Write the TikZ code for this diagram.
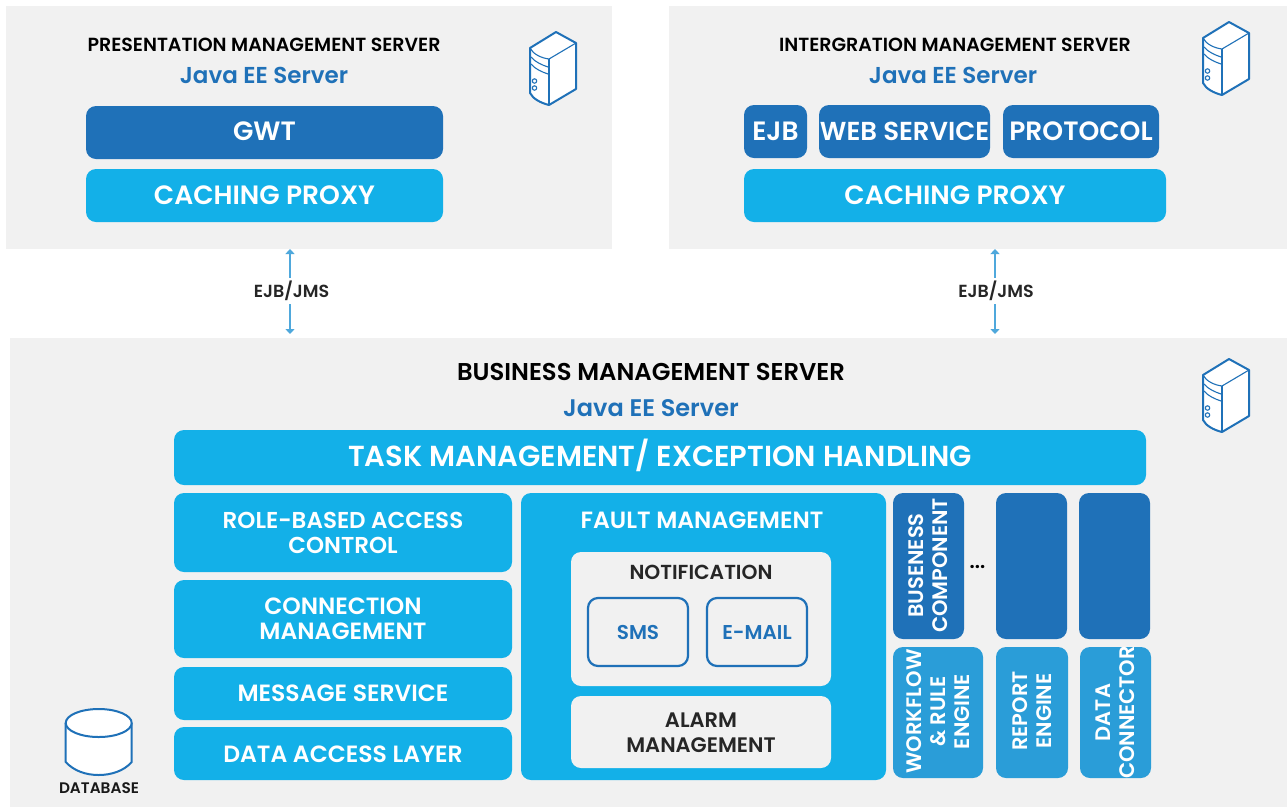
\documentclass[tikz,border=0pt]{standalone}
\usepackage{fontspec}
\setmainfont{Poppins}[BoldFont={Poppins SemiBold}]
\usetikzlibrary{calc,arrows.meta}
\definecolor{panelgray}{HTML}{F1F1F1}
\definecolor{darkblue}{HTML}{1F71B8}
\definecolor{brightblue}{HTML}{13B0E8}
\definecolor{midblue}{HTML}{2A9DD8}
\definecolor{arrowblue}{HTML}{4FA8DC}
\newcommand{\rect}[7][]{\path let \n1={#3-#2}, \n2={#5-#4} in node[#1,minimum width=\n1 pt,minimum height=\n2 pt] (#6) at ({(#2+#3)/2},{(#4+#5)/2}) {#7};}
\tikzset{
  x=1pt,y=-1pt,
  panel/.style={fill=panelgray,inner sep=0pt,outer sep=0pt},
  block/.style={rounded corners=10pt,inner sep=0pt,outer sep=0pt,align=center,text=white,font=\bfseries\fontsize{#1}{#1}\selectfont},
  dark/.style={block=#1,fill=darkblue},
  bright/.style={block=#1,fill=brightblue},
  mid/.style={block=#1,fill=midblue},
  sidetext/.style={inner sep=0pt,align=center,text=white,rotate=90,font=\bfseries\fontsize{21}{21}\selectfont},
  light/.style={rounded corners=10pt,inner sep=0pt,outer sep=0pt,fill=panelgray},
  lighttext/.style={inner sep=0pt,align=center,text=black!85,font=\bfseries\fontsize{#1}{25}\selectfont},
  outlinebox/.style={rounded corners=10pt,inner sep=0pt,outer sep=0pt,draw=darkblue,line width=2.2pt,text=darkblue,font=\bfseries\fontsize{20}{20}\selectfont},
  title/.style={text=black,inner sep=0pt,font=\bfseries\fontsize{#1}{#1}\selectfont},
  java/.style={text=darkblue,inner sep=0pt,font=\bfseries\fontsize{#1}{#1}\selectfont},
  link/.style={text=black!85,inner sep=0pt,font=\bfseries\fontsize{17.5}{17.5}\selectfont},
  flow/.style={draw=arrowblue,line width=1.8pt,-{Triangle[length=5pt,width=9pt]}},
  iconline/.style={draw=darkblue,line width=1.1pt},
  servericon/.pic={
    \draw[iconline,line width=2pt,fill=white,line join=round] (26,0) -- (0,16) -- (0,61) .. controls (3,67) and (11,71) .. (19,73) -- (46,57) -- (46,11) -- cycle;
    \draw[iconline] (0,16) .. controls (3,22) and (11,26) .. (19,27) -- (46,11);
    \draw[iconline] (19,27) -- (19,73);
    \draw[iconline] (1,25) .. controls (5,30) and (12,33) .. (18,35);
    \draw[iconline] (1,32) .. controls (5,37) and (12,40) .. (18,42);
    \draw[iconline] (4.5,49) circle (2.2);
    \draw[iconline] (4.5,56) circle (2.2);
  },
}
\begin{document}
\begin{tikzpicture}
\useasboundingbox (0,0) rectangle (1287,807);
\fill[white] (0,0) rectangle (1287,807);
% panels
\rect[panel]{6}{612}{6}{249}{presPanel}{}
\rect[panel]{669}{1287}{6}{249}{intPanel}{}
\rect[panel]{10}{1287}{338}{807}{busPanel}{}
% presentation
\node[title=19] (presTitle) at (264,45) {PRESENTATION MANAGEMENT SERVER};
\node[java=23] (presJava) at (264,75) {Java EE Server};
\rect[dark=26.5]{86}{443}{106}{159}{gwt}{}
\node[block=26.5,yshift=1.5pt] (gwtText) at (gwt.center) {GWT};
\rect[bright=26.5]{86}{443}{169}{222}{presCache}{CACHING PROXY}
\pic at (530,32) {servericon};
% integration
\node[title=19] (intTitle) at (955,45) {INTERGRATION MANAGEMENT SERVER};
\node[java=23] (intJava) at (953,75) {Java EE Server};
\rect[dark=26.5]{744}{807}{105}{158}{ejb}{EJB}
\rect[dark=26]{819}{990}{105}{158}{ws}{WEB SERVICE}
\rect[dark=26.5]{1003}{1159}{105}{158}{protocol}{PROTOCOL}
\rect[bright=26.5]{744}{1166}{169}{222}{intCache}{CACHING PROXY}
\pic at (1203,22) {servericon};
% links
\node[link] (linkA) at (291.5,291) {EJB/JMS};
\node[link] (linkB) at (996,291) {EJB/JMS};
\coordinate (axisA) at (290,291);
\coordinate (axisB) at (995,291);
\draw[flow] ($(axisA |- linkA.north)+(0,-3)$) -- (axisA |- presPanel.south);
\draw[flow] ($(axisA |- linkA.south)+(0,3)$) -- ($(axisA |- busPanel.north)+(0,-4)$);
\draw[flow] ($(axisB |- linkB.north)+(0,-3)$) -- (axisB |- intPanel.south);
\draw[flow] ($(axisB |- linkB.south)+(0,3)$) -- ($(axisB |- busPanel.north)+(0,-4)$);
% business
\node[title=24.3] (busTitle) at (651,372) {BUSINESS MANAGEMENT SERVER};
\node[java=24] (busJava) at (651,408) {Java EE Server};
\pic at (1203,359) {servericon};
\rect[bright=29]{174}{1146}{430}{485}{task}{}
\node[block=29,yshift=2pt] (taskText) at (task.center) {TASK MANAGEMENT/ EXCEPTION HANDLING};
\rect[bright=23]{174}{512}{493}{572}{role}{ROLE-BASED ACCESS\\[2pt]CONTROL}
\rect[bright=23.5]{174}{512}{580}{658}{conn}{CONNECTION\\[1.5pt]MANAGEMENT}
\rect[bright=23.5]{174}{512}{667}{720}{msg}{MESSAGE SERVICE}
\rect[bright=23.5]{174}{512}{727}{780}{dal}{}
\node[block=23.5,yshift=-1pt] (dalText) at (dal.center) {DATA ACCESS LAYER};
\rect[bright=23.5]{521}{886}{493}{780}{fault}{}
\node[block=23.5] (faultTitle) at (702,520) {FAULT MANAGEMENT};
\rect[light]{571}{831}{552}{686}{notif}{}
\node[lighttext=20.3] (notifTitle) at (701,572) {NOTIFICATION};
\rect[outlinebox]{588}{688}{598}{666}{sms}{SMS}
\rect[outlinebox]{707}{807}{598}{666}{email}{E-MAIL}
\rect[light]{571}{831}{696}{768}{alarm}{}
\node[lighttext=21,yshift=-1pt] (alarmText) at (alarm.center) {ALARM\\MANAGEMENT};
\rect[dark=21]{893}{964}{493}{639}{busComp}{}
\rect[dark=21]{996}{1067}{493}{639}{blankA}{}
\rect[dark=21]{1079}{1150}{493}{639}{blankB}{}
\node[sidetext,xshift=0.5pt] (busCompText) at (busComp.center) {BUSENESS\\[3pt]COMPONENT};
\node[inner sep=0pt,text=black,font=\bfseries\fontsize{20}{20}\selectfont] (dots) at (977.5,567) {...};
\rect[mid=21]{893}{983}{647}{778}{wf}{}
\rect[mid=21]{996}{1068}{647}{778}{report}{}
\rect[mid=21]{1080}{1151}{647}{778}{data}{}
\node[sidetext,xshift=1pt] (wfText) at (wf.center) {WORKFLOW\\[3pt]\& RULE\\[3pt]ENGINE};
\node[sidetext,xshift=1.5pt] (reportText) at (report.center) {REPORT\\[3pt]ENGINE};
\node[sidetext] (dataText) at (data.center) {DATA\\[3pt]CONNECTOR};
% database
\draw[iconline,line width=2pt,fill=white] (65.7,723) -- (65.7,762) .. controls (74,771) and (86,775) .. (98.7,775) .. controls (111,775) and (124,771) .. (131.7,762) -- (131.7,723);
\draw[iconline,line width=2pt,fill=white] (98.7,723) ellipse (33 and 14);
\node[inner sep=0pt,text=black!90,font=\bfseries\fontsize{15.3}{15.3}\selectfont] (db) at (99,788) {DATABASE};
\end{tikzpicture}
\end{document}
